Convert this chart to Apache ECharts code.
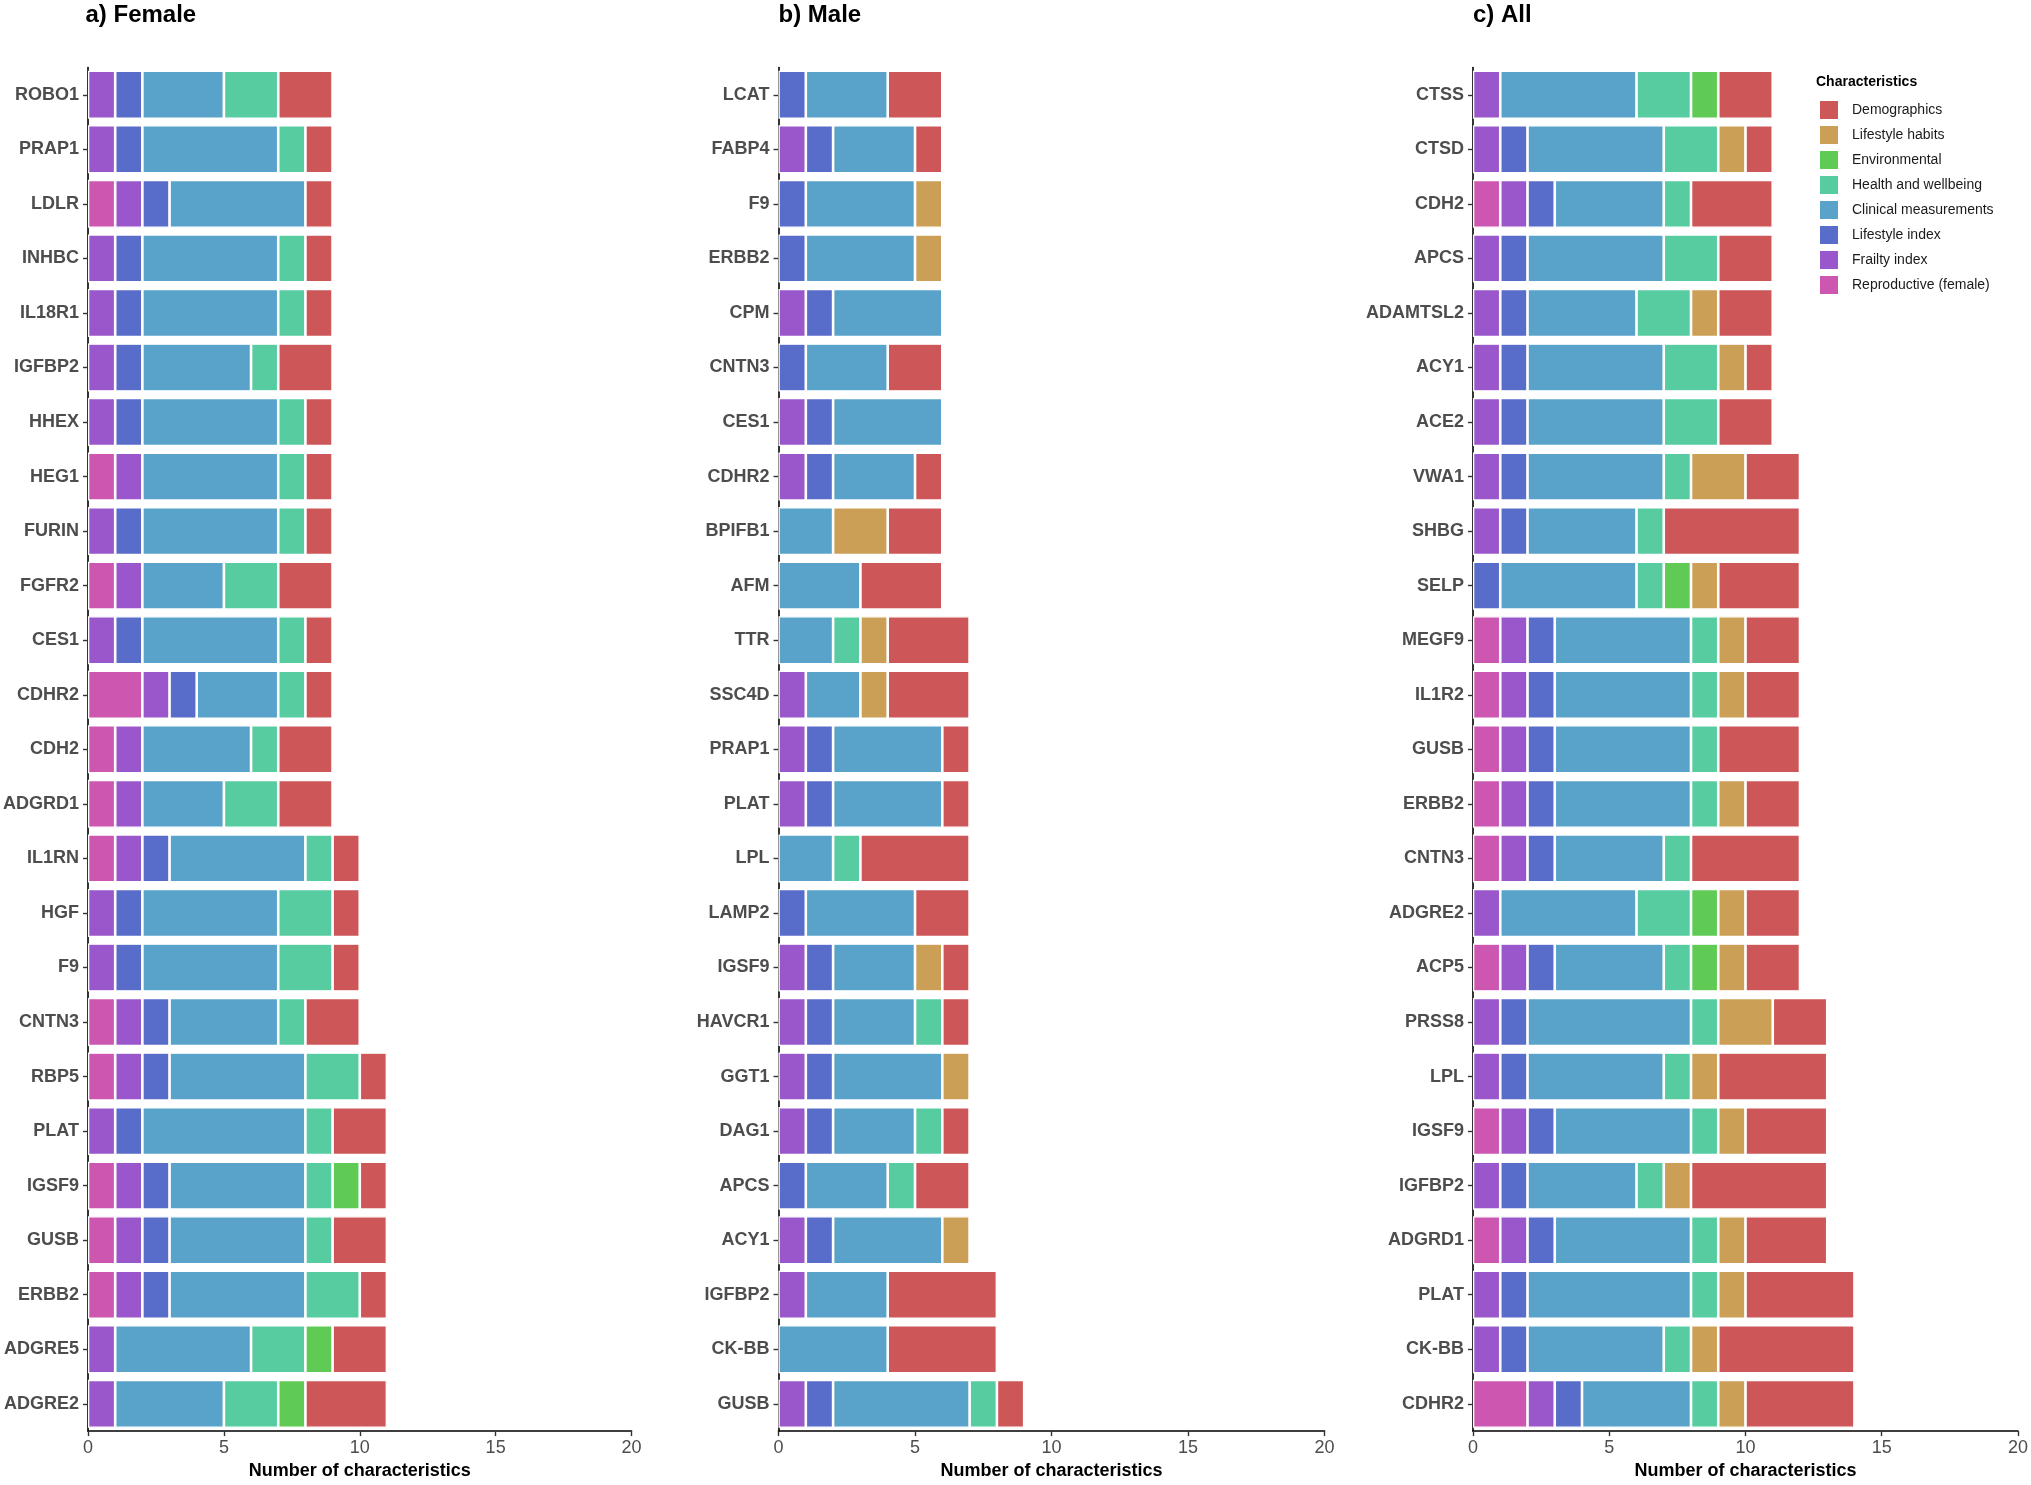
<!DOCTYPE html>
<html>
<head>
<meta charset="utf-8">
<script src="https://cdn.jsdelivr.net/npm/echarts@6/dist/echarts.min.js"></script>
<style>
html,body{margin:0;padding:0;background:#fff;}
#chart{width:2031px;height:1485px;}
</style>
</head>
<body>
<div id="chart"></div>
<script>
// ---------- Data (top to bottom) ----------
const categoryNames = ['Reproductive (female)','Frailty index','Lifestyle index','Clinical measurements','Health and wellbeing','Environmental','Lifestyle habits','Demographics'];
const categoryColors = ['#CD57B0','#9A57CB','#586CCA','#59A3CA','#56CCA0','#60CB54','#CC9F57','#CD5758'];
const legendOrder = ['Demographics','Lifestyle habits','Environmental','Health and wellbeing','Clinical measurements','Lifestyle index','Frailty index','Reproductive (female)'];
const xTicks = [0, 5, 10, 15, 20];

// a) Female
const femaleGenes        = ['ROBO1','PRAP1','LDLR','INHBC','IL18R1','IGFBP2','HHEX','HEG1','FURIN','FGFR2','CES1','CDHR2','CDH2','ADGRD1','IL1RN','HGF','F9','CNTN3','RBP5','PLAT','IGSF9','GUSB','ERBB2','ADGRE5','ADGRE2'];
const femaleReproductive = [0,0,1,0,0,0,0,1,0,1,0,2,1,1,1,0,0,1,1,0,1,1,1,0,0];
const femaleFrailty      = [1,1,1,1,1,1,1,1,1,1,1,1,1,1,1,1,1,1,1,1,1,1,1,1,1];
const femaleLifeIndex    = [1,1,1,1,1,1,1,0,1,0,1,1,0,0,1,1,1,1,1,1,1,1,1,0,0];
const femaleClinical     = [3,5,5,5,5,4,5,5,5,3,5,3,4,3,5,5,5,4,5,6,5,5,5,5,4];
const femaleHealth       = [2,1,0,1,1,1,1,1,1,2,1,1,1,2,1,2,2,1,2,1,1,1,2,2,2];
const femaleEnvironment  = [0,0,0,0,0,0,0,0,0,0,0,0,0,0,0,0,0,0,0,0,1,0,0,1,1];
const femaleLifeHabits   = [0,0,0,0,0,0,0,0,0,0,0,0,0,0,0,0,0,0,0,0,0,0,0,0,0];
const femaleDemographics = [2,1,1,1,1,2,1,1,1,2,1,1,2,2,1,1,1,2,1,2,1,2,1,2,3];

// b) Male
const maleGenes        = ['LCAT','FABP4','F9','ERBB2','CPM','CNTN3','CES1','CDHR2','BPIFB1','AFM','TTR','SSC4D','PRAP1','PLAT','LPL','LAMP2','IGSF9','HAVCR1','GGT1','DAG1','APCS','ACY1','IGFBP2','CK-BB','GUSB'];
const maleReproductive = [0,0,0,0,0,0,0,0,0,0,0,0,0,0,0,0,0,0,0,0,0,0,0,0,0];
const maleFrailty      = [0,1,0,0,1,0,1,1,0,0,0,1,1,1,0,0,1,1,1,1,0,1,1,0,1];
const maleLifeIndex    = [1,1,1,1,1,1,1,1,0,0,0,0,1,1,0,1,1,1,1,1,1,1,0,0,1];
const maleClinical     = [3,3,4,4,4,3,4,3,2,3,2,2,4,4,2,4,3,3,4,3,3,4,3,4,5];
const maleHealth       = [0,0,0,0,0,0,0,0,0,0,1,0,0,0,1,0,0,1,0,1,1,0,0,0,1];
const maleEnvironment  = [0,0,0,0,0,0,0,0,0,0,0,0,0,0,0,0,0,0,0,0,0,0,0,0,0];
const maleLifeHabits   = [0,0,1,1,0,0,0,0,2,0,1,1,0,0,0,0,1,0,1,0,0,1,0,0,0];
const maleDemographics = [2,1,0,0,0,2,0,1,2,3,3,3,1,1,4,2,1,1,0,1,2,0,4,4,1];

// c) All
const allGenes        = ['CTSS','CTSD','CDH2','APCS','ADAMTSL2','ACY1','ACE2','VWA1','SHBG','SELP','MEGF9','IL1R2','GUSB','ERBB2','CNTN3','ADGRE2','ACP5','PRSS8','LPL','IGSF9','IGFBP2','ADGRD1','PLAT','CK-BB','CDHR2'];
const allReproductive = [0,0,1,0,0,0,0,0,0,0,1,1,1,1,1,0,1,0,0,1,0,1,0,0,2];
const allFrailty      = [1,1,1,1,1,1,1,1,1,0,1,1,1,1,1,1,1,1,1,1,1,1,1,1,1];
const allLifeIndex    = [0,1,1,1,1,1,1,1,1,1,1,1,1,1,1,0,1,1,1,1,1,1,1,1,1];
const allClinical     = [5,5,4,5,4,5,5,5,4,5,5,5,5,5,4,5,4,6,5,5,4,5,6,5,4];
const allHealth       = [2,2,1,2,2,2,2,1,1,1,1,1,1,1,1,2,1,1,1,1,1,1,1,1,1];
const allEnvironment  = [1,0,0,0,0,0,0,0,0,1,0,0,0,0,0,1,1,0,0,0,0,0,0,0,0];
const allLifeHabits   = [0,1,0,0,1,1,0,2,0,1,1,1,0,1,0,1,1,2,1,1,1,1,1,1,1];
const allDemographics = [2,1,3,2,2,1,2,2,5,3,2,2,3,2,4,2,2,2,4,3,5,3,4,5,4];

const panelTitles = ['a) Female','b) Male','c) All'];
const panelGenes = [femaleGenes, maleGenes, allGenes];
const panelValues = [
  [femaleReproductive, femaleFrailty, femaleLifeIndex, femaleClinical, femaleHealth, femaleEnvironment, femaleLifeHabits, femaleDemographics],
  [maleReproductive, maleFrailty, maleLifeIndex, maleClinical, maleHealth, maleEnvironment, maleLifeHabits, maleDemographics],
  [allReproductive, allFrailty, allLifeIndex, allClinical, allHealth, allEnvironment, allLifeHabits, allDemographics]
];

// ---------- Layout ----------
const gridLefts = [85.5, 778.5, 1473];
const gridWidth = 546;
const gridTop = 67.5;
const gridHeight = 1368.5;
const FONT = '"Liberation Sans", Arial, Helvetica, sans-serif';

const grids = [], xAxes = [], yAxes = [], series = [], titles = [];
for (let p = 0; p < 3; p++) {
  grids.push({left: gridLefts[p], top: gridTop, width: gridWidth, height: gridHeight, containLabel: false});
  titles.push({
    text: panelTitles[p], left: gridLefts[p], top: 3, padding: 0,
    textStyle: {fontFamily: FONT, fontSize: 24, fontWeight: 'bold', color: '#000'}
  });
  xAxes.push({
    type: 'value', gridIndex: p, min: xTicks[0], max: xTicks[xTicks.length - 1], interval: 5,
    splitLine: {show: false},
    axisLine: {show: true, onZero: false, lineStyle: {color: '#000', width: 1.6}},
    axisTick: {show: true, length: 5, lineStyle: {color: '#333', width: 1.4}},
    axisLabel: {fontFamily: FONT, fontSize: 18, color: '#4d4d4d', margin: 8},
    name: 'Number of characteristics', nameLocation: 'middle', nameGap: 29,
    nameTextStyle: {fontFamily: FONT, fontSize: 18, fontWeight: 'bold', color: '#000'}
  });
  yAxes.push({
    type: 'category', gridIndex: p, data: panelGenes[p], inverse: true,
    axisLine: {show: true, lineStyle: {color: '#000', width: 1.6}},
    axisTick: {show: true, length: 5, alignWithLabel: true, lineStyle: {color: '#333', width: 1.4}},
    axisLabel: {fontFamily: FONT, fontSize: 18, fontWeight: 'bold', color: '#4d4d4d', margin: 9, interval: 0},
    splitLine: {show: false}
  });
  for (let c = 0; c < categoryNames.length; c++) {
    series.push({
      type: 'bar', name: categoryNames[c], xAxisIndex: p, yAxisIndex: p, stack: 'panel' + p,
      barWidth: '88%',
      data: panelValues[p][c].map(v => v === 0 ? null : v),
      itemStyle: {color: categoryColors[c], borderColor: '#ffffff', borderWidth: 1.3},
      emphasis: {disabled: true},
      silent: true,
      animation: false
    });
  }
}
titles.push({
  text: 'Characteristics', left: 1816, top: 75, padding: 0,
  textStyle: {fontFamily: FONT, fontSize: 14, fontWeight: 'bold', color: '#000'}
});

const chart = echarts.init(document.getElementById('chart'), null, {renderer: 'canvas'});
chart.setOption({
  backgroundColor: '#ffffff',
  animation: false,
  title: titles,
  grid: grids,
  xAxis: xAxes,
  yAxis: yAxes,
  legend: {
    data: legendOrder, orient: 'vertical', left: 1818, top: 99, padding: 0,
    itemWidth: 20, itemHeight: 20, itemGap: 3,
    icon: 'rect',
    selectedMode: false,
    textStyle: {fontFamily: FONT, fontSize: 14, color: '#1a1a1a', padding: [0, 0, 0, 8]}
  },
  series: series
});
</script>
</body>
</html>
